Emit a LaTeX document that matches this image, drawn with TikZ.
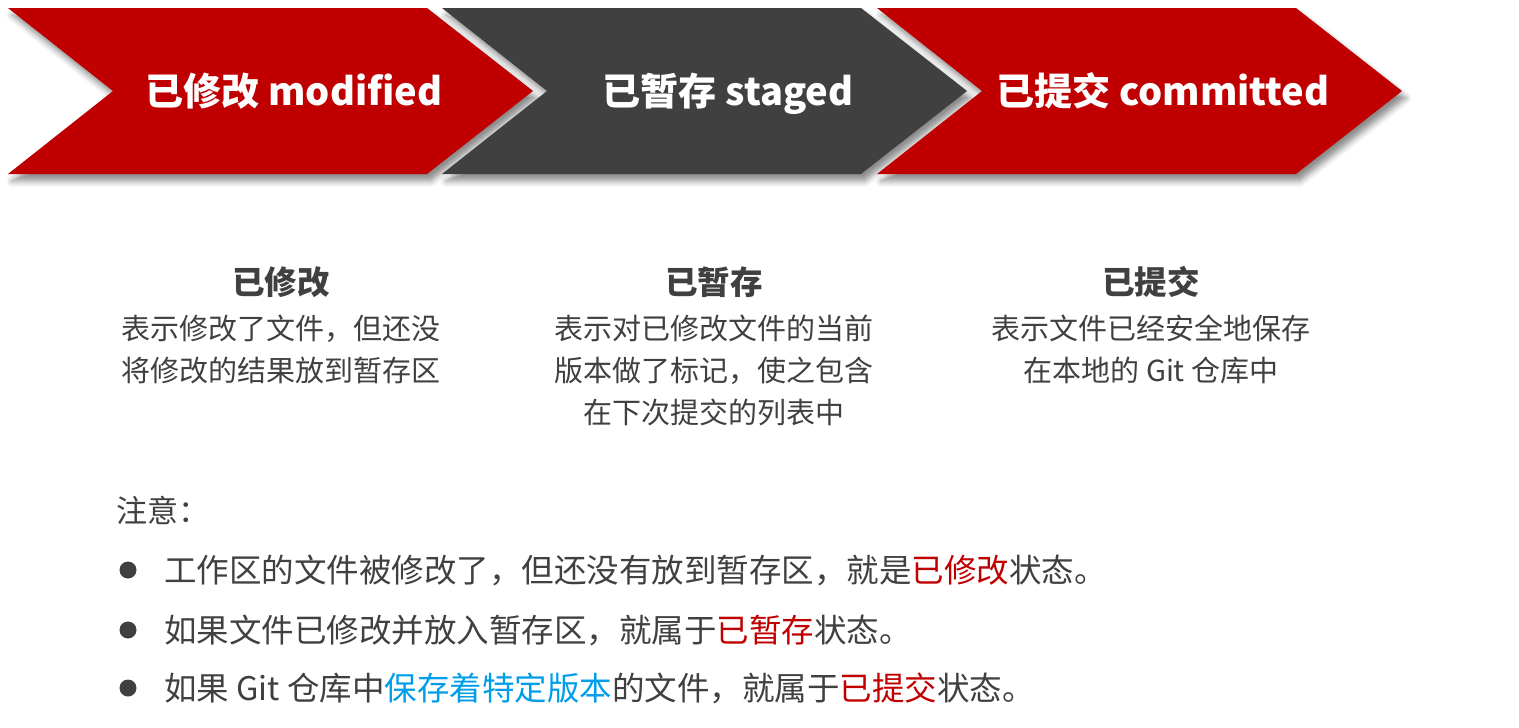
\documentclass[tikz,border=0pt]{standalone}
\usepackage{fontspec}
\setmainfont{Noto Sans CJK SC}
\usepackage{tikz}
\usetikzlibrary{positioning, shadows.blur}

\definecolor{gitred}{RGB}{192,0,0}
\definecolor{gitgrey}{RGB}{64,64,64}
\definecolor{textgrey}{RGB}{64,64,64}
\definecolor{gitblue}{RGB}{0,158,232}

\tikzset{
  chevron/.style={blur shadow={shadow xshift=4pt, shadow yshift=-7pt,
      shadow blur radius=6pt, shadow opacity=45}},
  stagetitle/.style={anchor=base, inner sep=0pt, text=white,
      font=\fontsize{38}{40}\selectfont\bfseries},
  colhead/.style={anchor=base, inner sep=0pt, text=textgrey,
      font=\fontsize{32.5}{36}\selectfont\bfseries},
  colbody/.style={anchor=north, inner sep=0pt, align=center, text=textgrey,
      font=\fontsize{29}{42}\selectfont},
  noteline/.style={anchor=base west, inner sep=0pt, text=textgrey,
      font=\fontsize{32.5}{36}\selectfont},
  dot/.style={fill=textgrey}
}

\begin{document}
\begin{tikzpicture}[x=1pt, y=-1pt]

  \useasboundingbox (0,0) rectangle (1519,728);

  % --- Stage chevrons ---
  \foreach \x/\col/\name/\txt in {8/gitred/modified/{已修改 modified},
      442/gitgrey/staged/{已暂存 staged},
      877/gitred/committed/{已提交 committed}}{
    \fill[\col, chevron]
      (\x,8) -- (\x+419,8) -- (\x+525,91) -- (\x+419,174)
      -- (\x,174) -- (\x+105,91) -- cycle;
    \node[stagetitle] (\name) at (\x+286,105) {\txt};
  }

  % --- Column texts ---
  \node[colhead] (headmod) at (281,294) {已修改};
  \node[colbody] (bodymod) at (281,315)
    {表示修改了文件，但还没\\将修改的结果放到暂存区};

  \node[colhead] (headstg) at (714,294) {已暂存};
  \node[colbody] (bodystg) at (714,315)
    {表示对已修改文件的当前\\版本做了标记，使之包含\\在下次提交的列表中};

  \node[colhead] (headcom) at (1151,294) {已提交};
  \node[colbody] (bodycom) at (1151,315)
    {表示文件已经安全地保存\\在本地的 Git 仓库中};

  % --- Notes ---
  \node[noteline, font=\fontsize{31}{36}\selectfont] (note) at (116,522) {注意：};

  \fill[dot] (128,570) circle (8.5pt);
  \node[noteline] (noteone) at (164,582)
    {工作区的文件被修改了，但还没有放到暂存区，就是\textcolor{gitred}{已修改}状态。};

  \fill[dot] (128,630) circle (8.5pt);
  \node[noteline] (notetwo) at (164,642)
    {如果文件已修改并放入暂存区，就属于\textcolor{gitred}{已暂存}状态。};

  \fill[dot] (128,688) circle (8.5pt);
  \node[noteline] (notethree) at (164,700)
    {如果 Git 仓库中\textcolor{gitblue}{保存着特定版本}的文件，就属于\textcolor{gitred}{已提交}状态。};

\end{tikzpicture}
\end{document}
